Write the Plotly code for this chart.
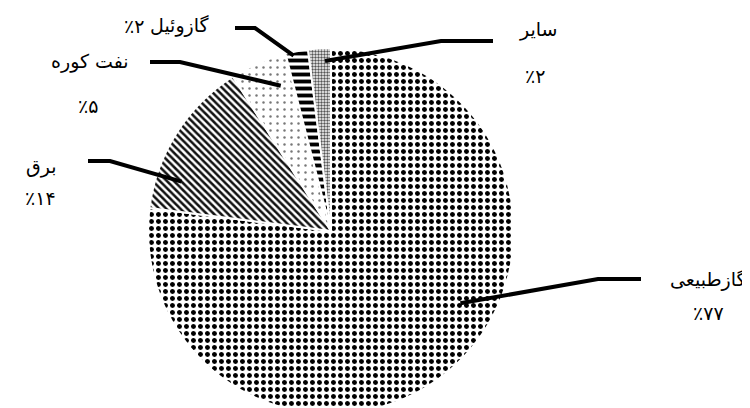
import math
import plotly.graph_objects as go

# data
labels = ["گازطبیعی", "برق", "نفت کوره", "گازوئیل", "سایر"]
shares = [77, 14, 5, 2, 2]
pct_labels = ["٪۷۷", "٪۱۴", "٪۵", "٪۲", "٪۲"]

# fill patterns per slice
shapes_ = [".", "\\", ".", "-", "."]
sizes = [7, 5, 7, 7, 3]
solids = [0.4, 0.5, 0.1, 0.55, 0.5]
fgcols = ["black", "#111111", "#777777", "black", "#555555"]

W, H = 750, 408
CX, CY, R = 323, 223, 183

# where each leader line starts: (fraction along slice, fraction of radius)
anchor = [(0.43, 0.81), (0.22, 0.86), (0.74, 0.84), (0.33, 0.98), (0.72, 0.93)]
# elbow and end of each leader line, label positions (pixels)
elbows = [(590, 271), (102, 153), (172, 54), (247, 20), (433, 33)]
ends = [(633, 271), (80, 153), (142, 54), (227, 20), (485, 33)]
name_pos = [(700, 271), (33, 159), (82, 54), None, (530, 21)]
pct_pos = [(700, 305), (32, 190), (80, 98), None, (527, 68)]


def px(x):
    return x / W


def py(y):
    return 1 - y / H


fig = go.Figure(go.Pie(
    labels=labels, values=shares, sort=False, direction="clockwise",
    rotation=0, textinfo="none", hoverinfo="label+percent",
    domain=dict(x=[(CX - R) / W, (CX + R) / W], y=[1 - (CY + R) / H, 1 - (CY - R) / H]),
    marker=dict(colors=["white"] * 5,
                line=dict(color="white", width=2),
                pattern=dict(shape=shapes_, size=sizes, solidity=solids,
                             fgcolor=fgcols, bgcolor="white", fillmode="replace")),
    showlegend=False,
))

total = sum(shares)
cum = 0
shapes = []
annots = []
for i, v in enumerate(shares):
    f, rf = anchor[i]
    th = math.radians(360 * (cum + f * v) / total)
    x0 = CX + rf * R * math.sin(th)
    y0 = CY - rf * R * math.cos(th)
    cum += v
    path = "M {},{} L {},{} L {},{}".format(
        px(x0), py(y0), px(elbows[i][0]), py(elbows[i][1]), px(ends[i][0]), py(ends[i][1]))
    shapes.append(dict(type="path", path=path, xref="paper", yref="paper",
                       line=dict(color="black", width=4)))
    if name_pos[i] is None:
        # name and percent on one line: name at right, percent to its left
        annots.append(dict(x=px(204), y=py(18), text=labels[i],
                           xanchor="right", yanchor="middle"))
        annots.append(dict(x=px(138), y=py(18), text=pct_labels[i],
                           xanchor="right", yanchor="middle"))
    else:
        annots.append(dict(x=px(name_pos[i][0]), y=py(name_pos[i][1]), text=labels[i],
                           xanchor="center", yanchor="middle"))
        annots.append(dict(x=px(pct_pos[i][0]), y=py(pct_pos[i][1]), text=pct_labels[i],
                           xanchor="center", yanchor="middle"))

for a in annots:
    a.update(xref="paper", yref="paper", showarrow=False,
             font=dict(size=19, color="black", family="DejaVu Sans"))

fig.update_layout(
    width=W, height=H, margin=dict(l=0, r=0, t=0, b=0),
    paper_bgcolor="white", plot_bgcolor="white",
    shapes=shapes, annotations=annots,
)

fig.write_html("out.html")
